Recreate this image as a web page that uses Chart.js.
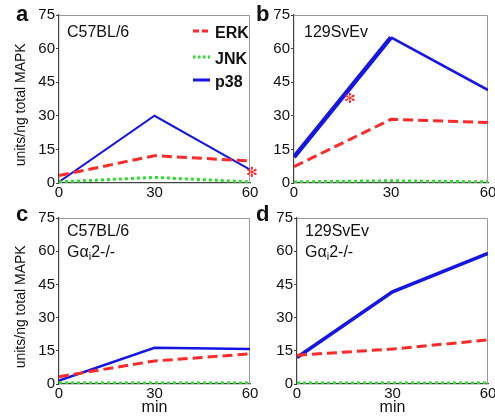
<!DOCTYPE html>
<html><head><meta charset="utf-8">
<script src="https://cdn.jsdelivr.net/npm/chart.js@4"></script>
<style>
html,body{margin:0;padding:0;background:#fff;width:495px;height:420px;overflow:hidden;font-family:'Liberation Sans',Arial,sans-serif;}
canvas{position:absolute;}
.t{position:absolute;line-height:1;white-space:nowrap;color:#111;font-size:16px;}
.L{font-weight:bold;font-size:22px;}
.lg{font-weight:bold;font-size:16px;}
.ast{position:absolute;line-height:1;color:#ff2a2a;font-family:'DejaVu Sans',sans-serif;font-size:14px;}
</style></head><body>
<canvas id="ca" width="275" height="205" style="left:0;top:0"></canvas>
<canvas id="cb" width="245" height="205" style="left:250px;top:0"></canvas>
<canvas id="cc" width="275" height="215" style="left:0;top:205px"></canvas>
<canvas id="cd" width="245" height="215" style="left:250px;top:205px"></canvas>

<div class="t L" style="left:16px;top:3px">a</div>
<div class="t L" style="left:256px;top:3px">b</div>
<div class="t L" style="left:16px;top:203px">c</div>
<div class="t L" style="left:256px;top:203px">d</div>

<div class="t" style="left:67px;top:24px">C57BL/6</div>
<div class="t" style="left:304px;top:24px">129SvEv</div>
<div class="t" style="left:67px;top:223px">C57BL/6</div>
<div class="t" style="left:67px;top:244px">Gα<sub style="font-size:11px;vertical-align:-3px">i</sub>2-/-</div>
<div class="t" style="left:305px;top:223px">129SvEv</div>
<div class="t" style="left:305px;top:244px">Gα<sub style="font-size:11px;vertical-align:-3px">i</sub>2-/-</div>

<svg style="position:absolute;left:193px;top:24px" width="18" height="64">
  <line x1="0" y1="7" x2="17" y2="7" stroke="#ff2a2a" stroke-width="3" stroke-dasharray="6,3"/>
  <line x1="0" y1="33" x2="17" y2="33" stroke="#2ae02a" stroke-width="3" stroke-dasharray="2.5,2.5"/>
  <line x1="0" y1="56" x2="17" y2="56" stroke="#1515e6" stroke-width="3"/>
</svg>
<div class="t lg" style="left:215px;top:25px">ERK</div>
<div class="t lg" style="left:215px;top:51px">JNK</div>
<div class="t lg" style="left:215px;top:74px">p38</div>

<div class="ast" style="left:246px;top:165px">✻</div>
<div class="ast" style="left:344px;top:91px">✻</div>

<script>
// ---- data ----
const times = [0, 30, 60];
const yTickValues = [0, 15, 30, 45, 60, 75];
const seriesNames = ['ERK', 'JNK', 'p38'];

const erkA = [3.3, 12.2, 9.8];
const jnkA = [0.5, 2.5, 0.5];
const p38A = [0.5, 30, 6];

const erkB = [7.3, 28.4, 27];
const jnkB = [0.5, 1, 0.5];
const p38B = [11.6, 65, 41.5];

const erkC = [3.3, 10.4, 13.6];
const jnkC = [0.5, 0.5, 0.5];
const p38C = [1.5, 16.4, 15.8];

const erkD = [13, 15.8, 19.9];
const jnkD = [0.5, 0.5, 0.5];
const p38D = [12, 41.6, 59];

const yTitle = 'units/ng total MAPK   ';
const xTitle = 'min';

// ---- styling ----
const FONT = "'Liberation Sans', Arial, sans-serif";
const RED = '#ff2a2a', GREEN = '#2ae02a', BLUE = '#1515e6';

const framePlugin = {
  id: 'frame',
  beforeDatasetsDraw(chart) {
    const {ctx, chartArea: a} = chart;
    ctx.save();
    ctx.lineWidth = 1;
    ctx.strokeStyle = '#9a9a9a';
    ctx.beginPath();
    ctx.moveTo(a.left, a.top + 0.5);
    ctx.lineTo(a.right - 0.5, a.top + 0.5);
    ctx.lineTo(a.right - 0.5, a.bottom);
    ctx.stroke();
    ctx.restore();
  }
};

function pts(vals) { return times.map((t, i) => ({x: t, y: vals[i]})); }

function makePanel(id, erk, jnk, p38, g) {
  new Chart(document.getElementById(id), {
    type: 'line',
    data: {
      datasets: [
        {label: seriesNames[0], data: pts(erk), borderColor: RED, borderWidth: 3, borderDash: [10, 5], pointRadius: 0, fill: false},
        {label: seriesNames[1], data: pts(jnk), borderColor: GREEN, borderWidth: 3, borderDash: [3, 3], pointRadius: 0, fill: false},
        {label: seriesNames[2], data: pts(p38), borderColor: BLUE, borderWidth: g.p38w[0], pointRadius: 0, fill: false,
         segment: {borderWidth: c => g.p38w[c.p0DataIndex]}}
      ]
    },
    options: {
      responsive: false,
      animation: false,
      events: [],
      layout: {padding: {left: 0, top: g.top, right: g.right, bottom: 0}},
      plugins: {legend: {display: false}, tooltip: {enabled: false}},
      scales: {
        x: {
          type: 'linear', min: 0, max: 60,
          afterBuildTicks: s => { s.ticks = times.map(v => ({value: v})); },
          grid: {display: false, drawTicks: false},
          border: {display: true, color: '#444', width: 1.2},
          ticks: {font: {family: FONT, size: 15}, color: '#111', padding: 1, maxRotation: 0, autoSkip: false},
          title: {display: g.xTitle, text: xTitle, font: {family: FONT, size: 16}, color: '#111', padding: {top: 0, bottom: 3}},
          afterFit: s => { s.height = g.xh; s.paddingLeft = 0; s.paddingRight = 0; }
        },
        y: {
          min: 0, max: 75,
          afterBuildTicks: s => { s.ticks = yTickValues.map(v => ({value: v})); },
          grid: {display: true, drawOnChartArea: false, drawTicks: true, tickLength: 3, color: '#444'},
          border: {display: true, color: '#444', width: 1.2},
          ticks: {font: {family: FONT, size: 15}, color: '#111', padding: 1},
          title: {display: g.yTitle, text: yTitle, font: {family: FONT, size: 14}, color: '#111', padding: {top: 13, bottom: 0}},
          afterFit: s => { s.width = g.yw; s.paddingTop = 0; s.paddingBottom = 0; }
        }
      }
    },
    plugins: [framePlugin]
  });
}

makePanel('ca', erkA, jnkA, p38A, {top: 15, right: 25, xh: 22, yw: 59, yTitle: true, xTitle: false, p38w: [2, 2]});
makePanel('cb', erkB, jnkB, p38B, {top: 15, right: 7, xh: 22, yw: 44, yTitle: false, xTitle: false, p38w: [4.5, 2.5]});
makePanel('cc', erkC, jnkC, p38C, {top: 13, right: 25, xh: 36, yw: 59, yTitle: true, xTitle: true, p38w: [2.5, 2.5]});
makePanel('cd', erkD, jnkD, p38D, {top: 13, right: 7, xh: 36, yw: 47, yTitle: false, xTitle: true, p38w: [3.5, 3.5]});
</script>
</body></html>
